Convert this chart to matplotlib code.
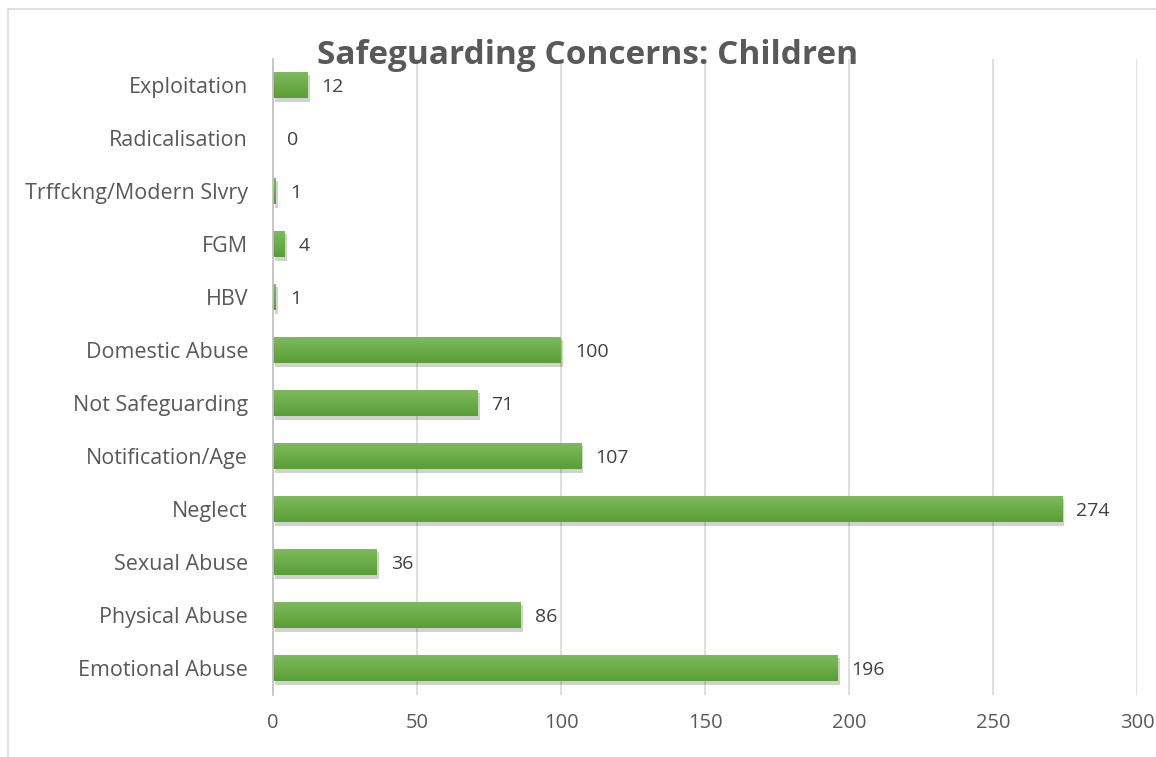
import matplotlib
matplotlib.use("Agg")
import matplotlib.pyplot as plt
import matplotlib.patheffects as pe
from matplotlib.patches import Rectangle
from matplotlib.colors import LinearSegmentedColormap
import numpy as np

categories = ["Emotional Abuse", "Physical Abuse", "Sexual Abuse", "Neglect",
              "Notification/Age", "Not Safeguarding", "Domestic Abuse", "HBV",
              "FGM", "Trffckng/Modern Slvry", "Radicalisation", "Exploitation"]
values = [196, 86, 36, 274, 107, 71, 100, 1, 4, 1, 0, 12]
xticks = [0, 50, 100, 150, 200, 250, 300]

plt.rcParams['font.family'] = ['Open Sans', 'DejaVu Sans']
W, H = 1156, 757
fig = plt.figure(figsize=(W / 100, H / 100), dpi=100)
fig.patches.append(Rectangle((8 / W, -0.01), 1.0, 1 - 9 / H + 0.01, transform=fig.transFigure,
                             fill=False, edgecolor="#d9d9d9", linewidth=1.2))

ax = fig.add_axes([273 / W, 1 - 694.5 / H, 864 / W, 636 / H])
y = range(len(categories))
bars = ax.barh(y, values, height=0.5, color="#6aad45", edgecolor="none", zorder=3)
cmap = LinearSegmentedColormap.from_list("g", ["#5a9e36", "#7fbb5e"])
grad = np.linspace(0, 1, 64).reshape(-1, 1)
for b in bars:
    b.set_path_effects([pe.SimplePatchShadow(offset=(1.5, -2.5), shadow_rgbFace="#000000", alpha=0.18),
                        pe.Normal()])
    if b.get_width() > 0:
        x0, y0 = b.get_x(), b.get_y()
        im = ax.imshow(grad, cmap=cmap, aspect="auto", origin="lower",
                       extent=(x0, x0 + b.get_width(), y0, y0 + b.get_height()), zorder=3.5)
        im.set_clip_path(b)
for i, v in enumerate(values):
    ax.annotate(str(v), (v, i), xytext=(10, -1.5), textcoords="offset points",
                va="center", ha="left", fontsize=14, color="#404040")

ax.set_xlim(0, 300)
ax.set_ylim(-0.5, len(categories) - 0.5)
ax.set_xticks(xticks)
ax.set_yticks(list(y))
ax.set_yticklabels(categories)
ax.tick_params(axis="y", length=0, labelsize=15.5, colors="#595959", pad=18)
ax.tick_params(axis="x", length=0, labelsize=14.5, colors="#595959", pad=13)
ax.grid(axis="x", color="#d9d9d9", linewidth=1.2, zorder=0)
for s in ["top", "right", "bottom"]:
    ax.spines[s].set_visible(False)
ax.spines["left"].set_color("#bfbfbf")
ax.spines["left"].set_linewidth(1.2)
ax.spines["left"].set_zorder(4)

fig.text(588 / W, 1 - 55 / H, "Safeguarding Concerns: Children", ha="center", va="center",
         fontsize=24, fontweight="bold", color="#595959")

fig.savefig("out.png", dpi=100)
